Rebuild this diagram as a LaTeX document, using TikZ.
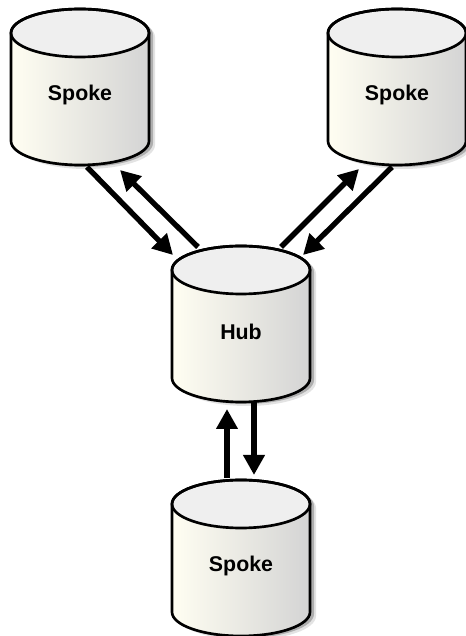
\documentclass[tikz,border=0pt]{standalone}
\usepackage{fontspec}
\setmainfont{Liberation Sans}
\usetikzlibrary{arrows.meta,calc}
\definecolor{drumleft}{HTML}{FFFEF2}
\definecolor{drummid}{HTML}{F0EEE8}
\definecolor{drumright}{HTML}{D4D4D4}
\definecolor{drumtop}{HTML}{EFEFEF}
\tikzset{
  drumtext/.style={font=\bfseries\fontsize{16pt}{18pt}\selectfont,inner sep=0pt},
  drumline/.style={draw=black,line width=2pt},
  link/.style={line width=4pt,-{Triangle[length=15pt,width=15.5pt]},shorten >=0pt},
}
% outline of a drum, #1 x and #2 y of its middle
\newcommand{\drumpath}[2]{(#1-69,#2+54) -- (#1-69,#2-54) arc[start angle=180,end angle=360,x radius=69,y radius=24] -- (#1+69,#2+54) arc[start angle=0,end angle=180,x radius=69,y radius=24] -- cycle}
\newcommand{\drum}[4]{
  \fill[black!60,opacity=.18] \drumpath{#2+6}{#3-4};
  \fill[black!70,opacity=.35] \drumpath{#2+4}{#3-2};
  \shade[left color=drumleft,middle color=drummid,right color=drumright] \drumpath{#2}{#3};
  \draw[drumline,fill=drumtop] (#2,#3+54) ellipse[x radius=69,y radius=24];
  \draw[drumline] \drumpath{#2}{#3};
  \node[drumtext] (#1) at (#2,#3-8) {#4};
}
\begin{document}
\begin{tikzpicture}[x=.75pt,y=.75pt]
\useasboundingbox (0,0) rectangle (465,636);
\drum{spokeA}{80}{549}{Spoke}
\drum{spokeB}{397}{549}{Spoke}
\drum{hub}{241}{312}{Hub}
\drum{spokeC}{241}{78}{Spoke}
% spoke A and hub
\draw[link] ($(spokeA)+(7,-72)$) -- ($(hub)+(-68,77)$);
\draw[link] ($(hub)+(-43,85)$) -- ($(spokeA)+(40,-75)$);
% spoke B and hub
\draw[link] ($(hub)+(40,85)$) -- ($(spokeB)+(-38,-74)$);
\draw[link] ($(spokeB)+(-5,-72)$) -- ($(hub)+(62,77)$);
% spoke C and hub
\draw[link] ($(spokeC)+(-14,88)$) -- ($(hub)+(-14,-77)$);
\draw[link] ($(hub)+(13,-70)$) -- ($(spokeC)+(13,91)$);
\end{tikzpicture}
\end{document}
